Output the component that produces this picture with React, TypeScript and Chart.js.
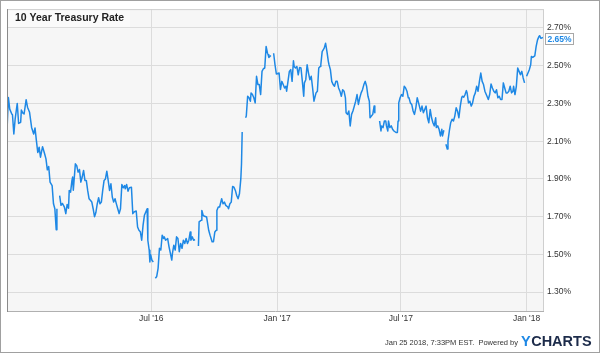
import React, { useEffect, useRef } from "react";
import { Chart, registerables } from "chart.js";

Chart.register(...registerables);

const TITLE = "10 Year Treasury Rate";
const FOOTER_TEXT = "Jan 25 2018, 7:33PM EST.  Powered by";
const BRAND_Y = "Y";
const BRAND_REST = "CHARTS";

const X_MIN_DATE = "2015-12-03";
const X_MAX_DATE = "2018-01-25";
const Y_MIN = 1.2;
const Y_MAX = 2.8;

const xTickDates = ["2016-07-01", "2017-01-01", "2017-07-01", "2018-01-01"];
const xTickLabels = ["Jul '16", "Jan '17", "Jul '17", "Jan '18"];
const yTickValues = [1.3, 1.5, 1.7, 1.9, 2.1, 2.3, 2.5, 2.7];

const dates: string[] = [
  "2015-12-03","2015-12-05","2015-12-07","2015-12-10","2015-12-11","2015-12-13","2015-12-15","2015-12-18","2015-12-20","2015-12-23",
  "2015-12-24","2015-12-26","2015-12-28","2015-12-31","2016-01-02","2016-01-05","2016-01-08","2016-01-11","2016-01-13","2016-01-15",
  "2016-01-17","2016-01-19","2016-01-21","2016-01-24","2016-01-27","2016-01-29","2016-01-31","2016-02-02","2016-02-04","2016-02-07",
  "2016-02-09","2016-02-11","2016-02-13","2016-02-14","2016-02-16","2016-02-18","2016-02-20","2016-02-22","2016-02-25","2016-02-27",
  "2016-02-29","2016-03-02","2016-03-03","2016-03-05","2016-03-07","2016-03-08","2016-03-09","2016-03-12","2016-03-14","2016-03-16",
  "2016-03-18","2016-03-20","2016-03-22","2016-03-24","2016-03-26","2016-03-28","2016-03-30","2016-04-01","2016-04-03","2016-04-05",
  "2016-04-07","2016-04-09","2016-04-11","2016-04-13","2016-04-15","2016-04-17","2016-04-19","2016-04-21","2016-04-23","2016-04-25",
  "2016-04-27","2016-04-29","2016-05-01","2016-05-03","2016-05-05","2016-05-07","2016-05-09","2016-05-11","2016-05-13","2016-05-15",
  "2016-05-17","2016-05-19","2016-05-21","2016-05-23","2016-05-24","2016-05-26","2016-05-28","2016-05-30","2016-06-02","2016-06-04",
  "2016-06-06","2016-06-09","2016-06-11","2016-06-13","2016-06-15","2016-06-17","2016-06-19","2016-06-21","2016-06-23","2016-06-25",
  "2016-06-26","2016-06-28","2016-06-29","2016-06-30","2016-07-02","2016-07-04","2016-07-05","2016-07-07","2016-07-09","2016-07-11",
  "2016-07-13","2016-07-15","2016-07-17","2016-07-19","2016-07-20","2016-07-22","2016-07-25","2016-07-27","2016-07-29","2016-07-31",
  "2016-08-01","2016-08-03","2016-08-05","2016-08-07","2016-08-09","2016-08-11","2016-08-13","2016-08-15","2016-08-17","2016-08-19",
  "2016-08-21","2016-08-23","2016-08-25","2016-08-27","2016-08-28","2016-08-30","2016-09-01","2016-09-03","2016-09-05","2016-09-08",
  "2016-09-09","2016-09-12","2016-09-13","2016-09-15","2016-09-17","2016-09-20","2016-09-23","2016-09-25","2016-09-28","2016-09-30",
  "2016-10-02","2016-10-04","2016-10-05","2016-10-07","2016-10-09","2016-10-12","2016-10-14","2016-10-16","2016-10-18","2016-10-21",
  "2016-10-22","2016-10-24","2016-10-26","2016-10-28","2016-10-30","2016-11-01","2016-11-03","2016-11-05","2016-11-07","2016-11-09",
  "2016-11-10","2016-11-11","2016-11-13","2016-11-16","2016-11-17","2016-11-19","2016-11-21","2016-11-23","2016-11-24","2016-11-26",
  "2016-11-28","2016-11-30","2016-12-02","2016-12-04","2016-12-06","2016-12-08","2016-12-10","2016-12-12","2016-12-14","2016-12-16",
  "2016-12-18","2016-12-19","2016-12-20","2016-12-23","2016-12-25","2016-12-27","2016-12-29","2016-12-31","2017-01-04","2017-01-06",
  "2017-01-08","2017-01-10","2017-01-12","2017-01-14","2017-01-15","2017-01-17","2017-01-19","2017-01-21","2017-01-23","2017-01-25",
  "2017-01-26","2017-01-28","2017-01-30","2017-02-01","2017-02-03","2017-02-05","2017-02-07","2017-02-09","2017-02-10","2017-02-12",
  "2017-02-14","2017-02-16","2017-02-18","2017-02-20","2017-02-22","2017-02-24","2017-02-27","2017-03-01","2017-03-03","2017-03-05",
  "2017-03-06","2017-03-08","2017-03-11","2017-03-13","2017-03-15","2017-03-17","2017-03-18","2017-03-20","2017-03-22","2017-03-24",
  "2017-03-26","2017-03-28","2017-03-30","2017-04-01","2017-04-03","2017-04-05","2017-04-07","2017-04-09","2017-04-11","2017-04-12",
  "2017-04-14","2017-04-16","2017-04-18","2017-04-20","2017-04-22","2017-04-24","2017-04-26","2017-04-28","2017-04-30","2017-05-02",
  "2017-05-04","2017-05-06","2017-05-08","2017-05-10","2017-05-12","2017-05-14","2017-05-16","2017-05-17","2017-05-19","2017-05-21",
  "2017-05-23","2017-05-24","2017-05-27","2017-05-31","2017-06-02","2017-06-03","2017-06-05","2017-06-07","2017-06-09","2017-06-10",
  "2017-06-12","2017-06-13","2017-06-15","2017-06-17","2017-06-19","2017-06-21","2017-06-24","2017-06-26","2017-06-27","2017-06-28",
  "2017-06-30","2017-07-02","2017-07-04","2017-07-06","2017-07-08","2017-07-10","2017-07-12","2017-07-13","2017-07-15","2017-07-17",
  "2017-07-19","2017-07-21","2017-07-23","2017-07-25","2017-07-27","2017-07-30","2017-08-01","2017-08-03","2017-08-05","2017-08-07",
  "2017-08-09","2017-08-11","2017-08-13","2017-08-15","2017-08-17","2017-08-19","2017-08-21","2017-08-22","2017-08-24","2017-08-26",
  "2017-08-28","2017-08-30","2017-08-31","2017-09-02","2017-09-04","2017-09-05","2017-09-07","2017-09-08","2017-09-10","2017-09-12",
  "2017-09-14","2017-09-16","2017-09-18","2017-09-20","2017-09-22","2017-09-24","2017-09-26","2017-09-28","2017-09-29","2017-10-01",
  "2017-10-03","2017-10-05","2017-10-06","2017-10-08","2017-10-10","2017-10-12","2017-10-14","2017-10-16","2017-10-18","2017-10-20",
  "2017-10-22","2017-10-24","2017-10-26","2017-10-28","2017-10-30","2017-11-01","2017-11-03","2017-11-05","2017-11-06","2017-11-08",
  "2017-11-10","2017-11-12","2017-11-14","2017-11-16","2017-11-18","2017-11-20","2017-11-22","2017-11-24","2017-11-26","2017-11-28",
  "2017-11-30","2017-12-02","2017-12-04","2017-12-06","2017-12-08","2017-12-10","2017-12-12","2017-12-13","2017-12-15","2017-12-17",
  "2017-12-19","2017-12-21","2017-12-23","2017-12-25","2017-12-27","2017-12-29","2017-12-30","2018-01-01","2018-01-03","2018-01-05",
  "2018-01-07","2018-01-08","2018-01-10","2018-01-13","2018-01-15","2018-01-17","2018-01-19","2018-01-20","2018-01-22","2018-01-25",
];

const rates: (number | null)[] = [
  2.155,2.332,2.27,2.244,2.24,2.138,2.22,2.30,2.194,2.20,
  2.265,2.25,2.244,2.32,2.28,2.253,2.173,2.138,2.17,2.103,
  2.04,2.068,2.015,2.071,2.033,2.006,1.948,1.966,1.883,1.865,
  1.768,1.742,1.631,1.742,null,1.812,1.76,1.77,1.75,1.716,
  1.765,1.745,1.839,1.83,1.892,1.91,1.84,1.98,1.97,1.936,
  1.95,1.883,1.91,1.945,1.892,1.892,1.839,1.795,1.787,1.778,
  1.742,1.70,1.722,1.768,1.80,1.768,1.777,1.839,1.892,1.90,
  1.941,1.892,1.839,1.874,1.804,1.778,1.795,1.768,1.742,1.716,
  1.742,1.87,1.853,1.865,1.848,1.87,1.835,1.853,1.856,1.716,
  1.725,1.73,1.645,1.628,1.62,1.575,1.654,1.707,1.725,1.742,
  1.575,1.522,1.46,1.50,1.469,1.46,null,1.374,1.383,1.426,
  1.532,1.523,1.602,1.584,1.593,1.575,1.584,1.54,1.505,1.47,
  1.505,1.549,1.523,1.593,1.584,1.514,1.558,1.532,1.575,1.558,
  1.584,1.558,1.575,1.619,1.575,1.593,1.575,1.579,null,1.544,
  1.672,1.681,1.733,1.707,1.702,1.698,1.628,1.602,1.567,1.567,
  1.619,1.628,1.733,1.751,1.751,1.795,1.768,1.777,1.76,1.751,
  1.742,1.768,1.777,1.86,1.856,1.839,1.812,1.795,1.821,1.90,
  1.979,2.149,null,2.224,2.233,2.338,2.33,2.312,2.356,2.347,
  2.33,2.303,2.444,2.40,2.40,2.347,2.47,2.484,2.488,2.602,
  2.566,2.558,2.544,2.554,null,2.566,2.505,2.456,2.461,2.374,
  2.417,2.40,2.382,2.391,2.365,2.417,2.47,2.479,2.417,2.526,
  2.496,2.488,2.496,2.452,2.491,2.488,2.417,2.338,2.409,2.426,
  2.505,2.461,2.426,2.444,2.382,2.312,2.356,2.365,2.488,2.496,
  2.505,2.575,2.593,2.619,2.575,2.523,2.505,2.479,2.417,2.40,
  2.391,2.417,2.417,2.382,2.365,2.338,2.373,2.365,2.33,2.251,
  2.242,2.26,2.181,2.242,2.26,2.286,2.312,2.347,2.295,2.33,
  2.356,2.373,2.40,2.417,2.391,2.338,2.312,2.224,2.233,2.242,
  2.286,2.251,null,2.207,2.154,2.181,2.172,2.207,2.207,2.181,
  2.154,2.207,2.172,2.181,2.163,2.154,2.146,2.146,2.207,2.303,
  2.33,2.347,2.338,2.391,2.382,2.365,2.33,2.33,2.303,2.295,
  2.26,2.242,2.277,2.33,2.303,2.259,2.286,2.251,2.268,2.286,
  2.224,2.198,2.268,2.224,2.198,2.181,2.224,2.172,2.181,2.163,
  2.128,2.163,2.128,2.158,null,2.084,2.058,2.102,2.154,2.198,
  2.216,2.207,2.233,2.277,2.259,2.224,2.286,2.33,2.338,2.333,
  2.347,2.368,2.356,2.303,2.312,2.286,2.303,2.338,2.356,2.391,
  2.365,2.417,2.461,2.417,2.40,2.365,2.347,2.33,2.321,2.347,
  2.403,2.382,2.365,2.356,2.373,2.33,2.338,2.321,2.321,2.409,
  2.382,2.356,2.356,2.365,2.391,2.356,2.365,2.391,2.347,2.391,
  2.488,2.47,2.452,2.47,2.435,2.409,null,2.444,2.461,2.479,
  2.505,2.549,2.544,2.552,2.602,2.637,2.654,2.659,2.645,2.65,
];

const LAST_VALUE = 2.65;

const toMs = (s: string) => Date.parse(s + "T00:00:00Z");

const FONT = '"Liberation Sans", Arial, Helvetica, sans-serif';
const LINE_COLOR = "#1e88e5";

const framePlugin = {
  id: "ychartsFrame",
  beforeDraw(chart: any) {
    const { ctx, chartArea: ca, width, height } = chart;
    ctx.save();
    ctx.fillStyle = "#ffffff";
    ctx.fillRect(0, 0, width, height);
    ctx.fillStyle = "#f6f6f6";
    ctx.fillRect(ca.left, ca.top, ca.right - ca.left, ca.bottom - ca.top);
    ctx.fillStyle = "#fafafa";
    ctx.fillRect(ca.left, ca.top, 123, 19);
    ctx.restore();
  },
  afterDraw(chart: any) {
    const { ctx, chartArea: ca, width, height } = chart;
    ctx.save();
    // plot frame
    ctx.lineWidth = 1;
    ctx.strokeStyle = "#cfcfcf";
    ctx.beginPath();
    ctx.moveTo(ca.left, ca.top + 0.5);
    ctx.lineTo(ca.right, ca.top + 0.5);
    ctx.moveTo(ca.right + 0.5, ca.top);
    ctx.lineTo(ca.right + 0.5, ca.bottom);
    ctx.stroke();
    ctx.strokeStyle = "#b0b0b0";
    ctx.beginPath();
    ctx.moveTo(ca.left, ca.bottom + 0.5);
    ctx.lineTo(ca.right + 1, ca.bottom + 0.5);
    ctx.stroke();
    ctx.strokeStyle = "#8a8a8a";
    ctx.beginPath();
    ctx.moveTo(ca.left + 0.5, ca.top);
    ctx.lineTo(ca.left + 0.5, ca.bottom + 1);
    ctx.stroke();

    // title
    ctx.fillStyle = "#222222";
    ctx.font = `bold 10.5px ${FONT}`;
    ctx.textAlign = "left";
    ctx.textBaseline = "middle";
    ctx.fillText(TITLE, ca.left + 8, ca.top + 9.5);

    // last value label
    const yScale = chart.scales.y;
    const yp = yScale.getPixelForValue(LAST_VALUE) + 1.5;
    const bx = ca.right + 2.5;
    const bw = 28;
    const bh = 11;
    ctx.fillStyle = "#ffffff";
    ctx.fillRect(bx, yp - bh / 2, bw, bh);
    ctx.strokeStyle = "#a8a8a8";
    ctx.strokeRect(bx, Math.round(yp - bh / 2) + 0.5, bw, bh);
    ctx.fillStyle = LINE_COLOR;
    ctx.font = `bold 8.5px ${FONT}`;
    ctx.textAlign = "center";
    ctx.fillText(LAST_VALUE.toFixed(2) + "%", bx + bw / 2, yp + 0.5);

    // footer
    ctx.textBaseline = "alphabetic";
    ctx.textAlign = "right";
    ctx.fillStyle = "#333333";
    ctx.font = `7.5px ${FONT}`;
    ctx.fillText(FOOTER_TEXT, 518, 345);
    ctx.textAlign = "left";
    ctx.font = `bold 14.5px ${FONT}`;
    const wY = ctx.measureText(BRAND_Y).width;
    ctx.fillStyle = "#1e88e5";
    ctx.fillText(BRAND_Y, 521, 346);
    ctx.fillStyle = "#1c2b4a";
    ctx.fillText(BRAND_REST, 521 + wY + 0.5, 346, 71 - wY);

    // outer border
    ctx.strokeStyle = "#a0a0a0";
    ctx.lineWidth = 1;
    ctx.strokeRect(0.5, 0.5, width - 1, height - 1);
    ctx.restore();
  },
};

export default function App() {
  const canvasRef = useRef<HTMLCanvasElement | null>(null);

  useEffect(() => {
    const canvas = canvasRef.current;
    if (!canvas) return;
    const points = dates.map((d, i) => ({ x: toMs(d), y: rates[i] }));
    const tickFont = { family: FONT, size: 8.5 };
    const chart = new Chart(canvas, {
      type: "line",
      data: {
        datasets: [
          {
            data: points as any,
            borderColor: LINE_COLOR,
            borderWidth: 1.5,
            pointRadius: 0,
            pointHoverRadius: 0,
            tension: 0,
            fill: false,
            spanGaps: false,
            borderJoinStyle: "round",
          },
        ],
      },
      options: {
        animation: false,
        responsive: false,
        devicePixelRatio: 1,
        events: [],
        layout: { padding: { left: 7, top: 7, right: 0, bottom: 0 } },
        plugins: {
          legend: { display: false },
          tooltip: { enabled: false },
          title: { display: false },
        },
        scales: {
          x: {
            type: "linear",
            min: toMs(X_MIN_DATE),
            max: toMs(X_MAX_DATE),
            afterBuildTicks: (scale: any) => {
              scale.ticks = xTickDates.map((d) => ({ value: toMs(d) }));
            },
            afterFit: (scale: any) => {
              scale.height = 42;
            },
            ticks: {
              autoSkip: false,
              maxRotation: 0,
              color: "#333333",
              font: tickFont,
              padding: 3,
              callback: (v: any) => {
                const i = xTickDates.findIndex((d) => toMs(d) === Number(v));
                return i >= 0 ? xTickLabels[i] : "";
              },
            },
            grid: { color: "#dcdcdc", lineWidth: 1, drawTicks: false },
            border: { display: false },
          },
          y: {
            position: "right",
            min: Y_MIN,
            max: Y_MAX,
            afterBuildTicks: (scale: any) => {
              scale.ticks = yTickValues.map((v) => ({ value: v }));
            },
            afterFit: (scale: any) => {
              scale.width = 57;
            },
            ticks: {
              color: "#333333",
              font: tickFont,
              padding: 4,
              callback: (v: any) => Number(v).toFixed(2) + "%",
            },
            grid: { color: "#dcdcdc", lineWidth: 1, drawTicks: false },
            border: { display: false },
          },
        },
      } as any,
      plugins: [framePlugin],
    });
    return () => chart.destroy();
  }, []);

  return (
    <div style={{ position: "absolute", left: 0, top: 0, width: 600, height: 353 }}>
      <canvas ref={canvasRef} width={600} height={353} style={{ display: "block", width: 600, height: 353 }} />
    </div>
  );
}
